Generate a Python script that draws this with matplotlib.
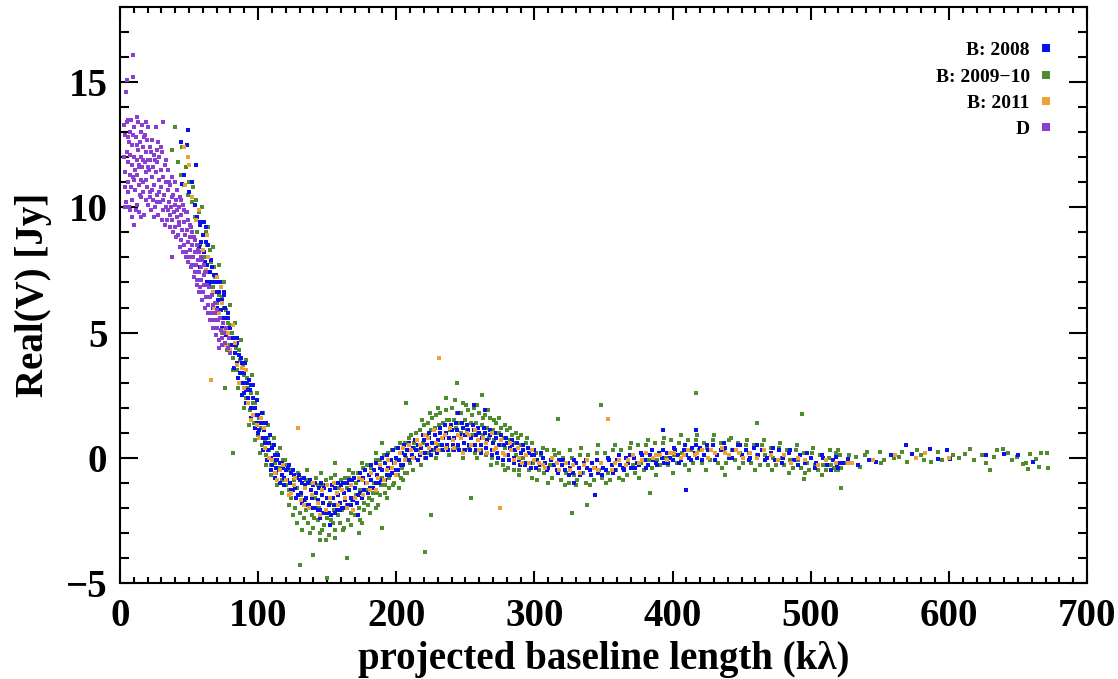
import matplotlib
matplotlib.use("Agg")
import matplotlib.pyplot as plt
from matplotlib.lines import Line2D
from matplotlib.ticker import MultipleLocator

plt.rcParams['font.family'] = ['Liberation Serif', 'DejaVu Serif']
plt.rcParams['font.weight'] = 'bold'

# (baseline kλ, Real(V) Jy)
blue_pts = [
    (44, 12.6), (48.5, 12.5), (49, 13.1), (55, 11.7), (46, 11.3), (45, 10.95), (50, 10.6), (52, 11.0),
    (54, 10.1), (56, 9.6), (58, 9.4), (57, 8.4), (58, 7.6), (63, 7.0),
    (58, 9.3), (59, 8.6), (60, 8.9), (61, 8.2), (62, 8.6), (63, 7.7), (64, 8.0), (65, 7.4), (66, 7.9),
    (67, 7.0), (68, 7.3), (69, 6.6), (70, 7.0), (71, 6.3), (72, 6.6), (73, 5.9), (74, 6.3), (75, 5.6),
    (76, 6.0), (77, 5.2), (78, 5.6), (79, 4.8), (80, 5.2), (81, 4.5), (82, 4.8), (83, 4.2), (84, 4.5),
    (85, 3.8), (86, 4.1), (87, 3.4), (88, 3.8), (89, 3.0), (90, 3.4), (91, 2.7), (92, 3.0), (93, 2.4),
    (94, 2.7), (95, 2.0), (96, 2.4), (97, 1.7), (98, 2.0), (99, 1.4), (100, 1.7), (101, 1.1), (102, 1.4),
    (103, 0.8), (104, 1.1), (105, 0.6), (106, 0.8), (107, 0.3), (108, 0.6), (109, 0.0), (110, 0.4),
    (111, -0.1), (112, 0.1), (113, -0.4), (114, -0.1), (115, -0.5), (116, -0.2), (117, -0.7), (118, -0.4),
    (119, -0.8), (120, -0.5), (62, 9.2), (66, 7.0), (70, 6.0), (75, 6.5), (80, 4.3), (85, 4.6), (90, 2.6),
    (95, 2.9), (100, 1.0), (105, 1.4), (110, -0.3),
    (60.5, 9.4), (61.5, 7.8), (63.5, 8.5), (64.5, 6.9), (66.5, 7.6), (67.5, 6.0), (69.5, 7.3), (70.5, 5.9),
    (72.5, 7.0), (73.5, 5.2), (75.5, 6.6), (76.5, 4.9), (78.5, 5.8), (79.5, 4.2), (81.5, 5.3), (82.5, 3.6),
    (84.5, 4.8), (85.5, 3.2), (87.5, 4.0), (88.5, 2.5), (90.5, 3.8), (91.5, 2.2), (93.5, 3.1), (94.5, 1.6),
    (96.5, 2.9), (97.5, 1.2), (99.5, 2.3), (100.5, 0.8), (102.5, 1.8), (103.5, 0.3), (105.5, 1.4),
    (106.5, -0.1), (108.5, 0.9), (109.5, -0.5), (111.5, 0.5), (112.5, -0.8), (114.5, 0.1), (115.5, -1.0),
    (117.5, -0.2), (118.5, -1.1),
    (121, -0.9), (122, -0.3), (123, -1.0), (124, -0.6), (125, -1.3), (126, -0.7), (127, -1.2), (128, -0.8),
    (129, -1.5), (130, -0.9), (131, -1.4), (132, -1.0), (133, -1.7), (134, -1.1), (135, -1.6), (136, -1.0),
    (137, -1.9), (138, -1.3), (139, -1.6), (140, -1.1), (141, -2.0), (142, -1.4), (143, -1.7), (144, -1.2),
    (145, -2.1), (146, -1.5), (147, -1.8), (148, -1.2), (149, -2.2), (150, -1.6), (151, -1.9), (152, -1.3),
    (153, -2.3), (154, -1.6), (155, -1.9), (156, -1.2), (157, -2.1), (158, -1.5), (159, -1.8), (160, -1.1),
    (161, -2.0), (162, -1.4), (163, -1.7), (164, -1.0), (165, -1.9), (166, -1.3), (167, -1.6), (168, -0.9),
    (169, -1.7), (170, -1.2), (172, -1.5), (173, -0.9), (174, -1.4), (176, -0.8), (177, -1.3), (178, -1.0),
    (180, -0.7), (181, -1.2), (182, -0.9), (184, -0.5), (185, -1.0), (186, -0.7), (188, -0.4), (189, -0.9),
    (190, -0.5), (192, -0.2), (193, -0.7), (194, -0.4), (196, -0.1), (197, -0.6), (198, -0.2), (200, 0.0),
    (201, -0.5), (202, -0.1), (204, 0.2), (205, -0.3), (206, 0.1), (208, 0.3), (209, -0.1), (210, 0.3),
    (152, -2.7), (172, -2.3), (145, -2.4),
    (121.5, -0.4), (123.5, -1.3), (125.5, -0.5), (127.5, -1.6), (129.5, -0.7), (131.5, -1.8), (133.5, -0.8),
    (135.5, -1.9), (137.5, -0.9), (139.5, -2.0), (141.5, -1.0), (143.5, -2.1), (145.5, -1.0), (147.5, -2.2),
    (149.5, -1.1), (151.5, -2.2), (153.5, -1.1), (155.5, -2.2), (157.5, -1.0), (159.5, -2.1), (161.5, -1.0),
    (163.5, -2.0), (165.5, -0.9), (167.5, -1.9), (169.5, -0.8), (171.5, -1.8), (173.5, -0.6), (175.5, -1.6),
    (177.5, -0.5), (179.5, -1.4), (181.5, -0.3), (183.5, -1.2), (185.5, -0.2), (187.5, -1.0), (189.5, 0.0),
    (191.5, -0.9), (193.5, 0.1), (195.5, -0.7), (197.5, 0.3), (199.5, -0.5), (201.5, 0.4), (203.5, -0.3),
    (205.5, 0.5), (207.5, -0.1), (209.5, 0.6), (211.5, 0.1),
    (212, 0.4), (213, 0.0), (214, 0.3), (216, 0.5), (217, 0.1), (218, 0.4), (220, 0.7), (221, 0.2),
    (222, 0.5), (224, 0.8), (225, 0.3), (226, 0.6), (228, 0.9), (229, 0.4), (230, 0.7), (232, 1.0),
    (233, 0.5), (234, 0.8), (236, 1.0), (237, 0.5), (238, 0.8), (240, 1.1), (241, 0.5), (242, 0.8),
    (244, 1.1), (245, 0.5), (246, 0.9), (248, 1.2), (249, 0.6), (250, 0.9), (252, 1.1), (253, 0.5),
    (254, 0.8), (256, 1.1), (257, 0.5), (258, 0.9), (260, 1.0), (261, 0.5), (262, 0.8), (264, 1.0),
    (265, 0.4), (266, 0.7), (268, 0.9), (269, 0.3), (270, 0.6), (272, 0.8), (273, 0.2), (274, 0.5),
    (276, 0.7), (277, 0.2), (278, 0.5), (280, 0.6), (281, 0.1), (282, 0.4), (284, 0.5), (285, 0.0),
    (286, 0.3), (288, 0.4), (289, -0.1), (290, 0.2), (292, 0.3), (293, -0.2), (294, 0.1), (296, 0.2),
    (297, -0.2), (298, 0.1), (300, 0.1), (256, 2.1), (245, 1.8), (264, 1.9),
    (213.5, 0.7), (215.5, -0.1), (219.5, 0.9), (221.5, 0.0), (223.5, 1.0), (225.5, 0.1), (227.5, 1.1),
    (229.5, 0.2), (231.5, 1.2), (233.5, 0.3), (235.5, 1.3), (237.5, 0.3), (239.5, 1.3), (241.5, 0.3),
    (243.5, 1.4), (245.5, 0.3), (247.5, 1.4), (249.5, 0.3), (251.5, 1.3), (253.5, 0.3), (255.5, 1.3),
    (257.5, 0.3), (259.5, 1.2), (261.5, 0.2), (263.5, 1.2), (265.5, 0.2), (267.5, 1.1), (269.5, 0.1),
    (271.5, 1.0), (273.5, 0.0), (275.5, 0.9), (277.5, -0.1), (279.5, 0.8), (281.5, -0.1), (283.5, 0.7),
    (285.5, -0.2), (287.5, 0.6), (289.5, -0.3), (291.5, 0.5), (293.5, -0.3), (295.5, 0.4), (297.5, -0.4),
    (299.5, 0.3),
    (302, -0.1), (304, -0.3), (306, 0.0), (308, -0.2), (310, -0.4), (312, -0.1), (314, -0.3), (316, -0.5),
    (318, -0.1), (320, -0.3), (322, -0.5), (324, -0.2), (326, -0.4), (328, -0.6), (330, -0.2), (332, -0.4),
    (334, -0.6), (336, -0.2), (338, -0.4), (340, -0.5), (342, -0.2), (344, -0.4), (346, -0.6), (348, -0.2),
    (350, -0.4), (352, -0.5), (354, -0.1), (356, -0.3), (358, -0.5), (360, -0.1), (362, -0.3), (364, -0.4),
    (366, 0.0), (368, -0.2), (370, -0.4), (372, 0.0), (374, -0.2), (376, -0.3), (378, 0.1), (380, -0.1),
    (382, -0.3), (384, 0.1), (386, -0.1), (388, -0.2), (390, 0.2), (392, 0.0), (394, -0.2), (396, 0.2),
    (398, 0.0), (400, -0.1), (402, 0.3), (404, 0.1), (406, -0.1), (408, 0.3), (410, 0.1), (412, 0.0),
    (414, 0.4), (416, 0.2), (418, 0.0), (420, 0.4), (423, 0.1), (426, 0.3), (429, 0.5), (432, 0.1),
    (435, 0.3), (438, 0.4), (441, 0.0), (444, 0.3), (447, 0.5), (450, 0.1), (453, 0.3), (456, 0.0),
    (459, 0.4), (462, 0.1), (465, 0.3), (468, 0.0), (471, 0.2), (474, -0.1), (477, 0.3), (480, 0.0),
    (484, 0.2), (488, -0.1), (492, 0.1), (496, -0.2), (500, 0.0), (504, -0.2), (508, 0.1), (512, -0.3),
    (516, -0.1), (519, -0.3), (521, -0.2),
    (301, -0.4), (305, 0.2), (309, -0.5), (313, 0.0), (317, -0.6), (321, -0.1), (325, -0.7), (329, -0.1),
    (333, -0.7), (337, -0.1), (341, -0.7), (345, -0.1), (349, -0.7), (353, 0.0), (357, -0.6), (361, 0.1),
    (365, -0.5), (369, 0.1), (373, -0.4), (377, 0.2), (381, -0.4), (385, 0.3), (389, -0.3), (393, 0.3),
    (397, -0.2), (401, 0.4), (405, -0.2), (409, 0.5), (413, -0.1), (417, 0.5), (421, -0.1), (425, 0.5),
    (431, -0.1), (437, 0.6), (443, 0.0), (449, 0.5), (455, -0.1), (461, 0.5), (467, -0.1), (473, 0.4),
    (479, -0.2), (485, 0.3), (491, -0.3), (497, 0.2), (503, -0.4), (509, 0.0), (515, -0.5), (520, -0.4),
    (393, 1.1), (417, 1.1), (410, -1.3), (344, -1.5), (329, -1.0),
    (518, 0.04), (523, -0.2), (542, -0.1), (547, -0.15), (558, 0.1), (569, 0.5), (573, 0.15), (586, 0.35),
    (592, -0.05), (599, 0.3), (601, -0.05), (627, 0.1), (640, 0.15), (650, 0.1), (661, -0.15), (534, -0.3),
    (527, -0.05),
]

green_pts = [
    (38, 12.3), (40, 13.2), (42, 11.8), (44, 11.3), (45, 12.4), (46, 10.9), (48, 11.6), (49, 10.5),
    (50, 11.0), (52, 10.2), (53, 10.8), (54, 9.6), (55, 10.3), (56, 9.0), (57, 9.8), (58, 8.5), (59, 9.4),
    (60, 8.9), (61, 8.0), (62, 9.0), (63, 8.5), (64, 7.4), (65, 8.3), (66, 7.8), (67, 6.8), (68, 7.6),
    (69, 7.2), (70, 6.2), (71, 7.0), (72, 6.5), (73, 5.6), (74, 6.4), (75, 6.0), (76, 5.0), (77, 5.9),
    (78, 5.4), (79, 4.5), (80, 5.3), (81, 5.0), (82, 4.0), (83, 4.8), (84, 4.4), (85, 3.5), (86, 4.3),
    (87, 3.9), (88, 3.0), (89, 3.7), (90, 3.3), (91, 2.4), (92, 3.2), (93, 2.8), (94, 1.9), (95, 2.6),
    (96, 2.2), (97, 1.4), (98, 2.2), (99, 1.7), (100, 0.9), (101, 1.6), (102, 1.2), (103, 0.5), (104, 1.1),
    (105, 0.7), (106, 0.1), (107, 0.8), (108, 0.3), (109, -0.3), (110, 0.5), (112, -0.2), (113, -0.6),
    (114, 0.2), (116, -0.4), (117, -0.9), (118, -0.1), (120, -1.1), (121, -0.3), (82, 0.2), (76, 2.8),
    (59.5, 10.0), (61.5, 7.4), (63.5, 9.2), (65.5, 6.8), (67.5, 8.4), (69.5, 5.8), (71.5, 7.7), (73.5, 5.0),
    (75.5, 7.0), (77.5, 4.3), (79.5, 6.1), (81.5, 3.5), (83.5, 5.4), (85.5, 2.8), (87.5, 4.7), (89.5, 2.0),
    (91.5, 3.9), (93.5, 1.3), (95.5, 3.3), (97.5, 0.7), (99.5, 2.6), (101.5, 0.2), (103.5, 1.8),
    (105.5, -0.3), (107.5, 1.3), (109.5, -0.7), (111.5, 0.8), (113.5, -1.1), (115.5, 0.4), (117.5, -1.4),
    (119.5, -0.1),
    (122, -1.3), (123, -0.5), (124, -1.6), (126, -0.9), (127, -2.0), (128, -1.2), (129, -0.6), (130, -2.2),
    (131, -1.5), (132, -0.8), (133, -2.4), (134, -1.7), (135, -0.9), (136, -2.6), (137, -1.9), (138, -1.0),
    (139, -2.3), (140, -2.8), (141, -1.6), (142, -0.8), (143, -2.5), (144, -2.0), (145, -3.0), (146, -1.1),
    (147, -2.2), (148, -2.7), (149, -0.9), (150, -2.4), (151, -3.1), (152, -1.8), (153, -0.8), (154, -2.6),
    (155, -2.1), (156, -2.9), (157, -1.0), (158, -2.3), (159, -2.6), (160, -0.9), (161, -2.1), (162, -2.8),
    (163, -0.8), (164, -1.9), (165, -2.5), (166, -0.8), (167, -2.2), (168, -1.7), (169, -0.6), (170, -2.3),
    (171, -1.5), (172, -0.6), (173, -2.0), (174, -1.3), (175, -2.6), (176, -0.4), (177, -1.8), (178, -1.3),
    (179, -0.3), (180, -1.6), (181, -2.2), (182, -0.4), (183, -1.4), (184, -1.0), (185, -0.1), (186, -1.4),
    (187, -1.9), (188, -0.1), (189, -1.1), (190, -0.8), (191, 0.1), (192, -1.1), (193, -1.6), (194, 0.2),
    (195, -0.8), (196, -0.4), (197, 0.3), (198, -1.0), (199, -0.2), (200, 0.4), (201, -0.7), (202, -1.2),
    (203, 0.6), (204, -0.4), (205, -0.9), (206, 0.6), (207, 0.0), (208, -0.6), (209, 0.8), (210, -0.2),
    (211, 0.9), (212, -0.5), (213, 0.4), (214, 1.0),
    (122.5, -1.9), (125.5, -2.3), (128.5, -2.6), (131.5, -2.9), (134.5, -2.1), (137.5, -3.0), (140.5, -2.4),
    (143.5, -1.1), (146.5, -2.9), (149.5, -3.3), (152.5, -2.5), (155.5, -3.2), (158.5, -1.2), (161.5, -2.9),
    (164.5, -1.2), (167.5, -2.7), (170.5, -1.0), (173.5, -2.5), (176.5, -2.1), (179.5, -1.9), (182.5, -1.7),
    (185.5, -2.0), (188.5, -1.5), (191.5, -1.4), (194.5, -1.2), (197.5, -1.1), (200.5, -0.1), (203.5, -0.8),
    (206.5, -0.6), (209.5, 0.3), (212.5, 0.6), (135.5, -0.5), (145.5, -0.6), (155.5, -0.7), (165.5, -0.5),
    (175.5, -0.2), (185.5, 0.2),
    (130, -4.3), (140, -3.9), (164, -4.0), (150, -4.8), (221, -3.75), (225, -2.3), (207, 2.2), (254, -1.6),
    (145, -3.3), (190, -2.8), (156, -0.2), (190, 0.6), (173, -3.0),
    (216, 0.3), (217, 1.1), (218, -0.3), (219, 0.6), (220, 1.3), (221, 0.0), (222, 0.9), (223, 1.4),
    (224, 0.2), (225, 1.1), (226, 1.6), (227, 0.3), (228, 1.2), (229, 1.7), (230, 0.5), (231, 1.3),
    (232, 1.8), (233, 0.3), (234, 1.4), (235, 0.9), (236, 1.9), (237, 0.4), (238, 1.5), (239, 1.1),
    (240, 2.0), (241, 0.3), (242, 1.5), (243, 1.2), (244, 1.8), (245, 0.4), (246, 1.4), (247, 1.0),
    (248, 2.2), (249, 0.3), (250, 1.5), (251, 1.1), (252, 1.9), (253, 0.4), (254, 1.4), (255, 0.9),
    (256, 2.0), (257, 0.2), (258, 1.4), (259, 1.0), (260, 1.8), (261, 0.3), (262, 1.3), (263, 0.9),
    (264, 1.7), (265, 0.1), (266, 1.2), (267, 0.8), (268, 1.6), (269, 0.0), (270, 1.1), (271, 0.7),
    (272, 1.4), (273, -0.2), (274, 1.0), (275, 0.5), (276, 1.2), (277, -0.3), (278, 0.8), (279, 0.4),
    (280, 1.1), (281, -0.4), (282, 0.7), (283, 0.3), (284, 0.9), (285, -0.5), (286, 0.6), (287, 0.1),
    (288, 0.8), (289, -0.5), (290, 0.5), (292, 0.0), (294, 0.6), (296, -0.5), (298, 0.3), (299, -0.2),
    (244, 3.0), (236, 2.4), (262, 2.5),
    (218.5, 1.5), (224.5, 1.8), (230.5, 2.0), (236.5, 1.5), (242.5, 2.3), (246.5, 1.8), (250.5, 2.1),
    (254.5, 1.7), (258.5, 2.1), (262.5, 1.6), (266.5, 1.9), (270.5, 1.5), (274.5, 1.6), (278.5, 1.3),
    (282.5, 1.2), (286.5, 1.0), (290.5, 0.9), (294.5, 0.8), (298.5, 0.6), (228.5, 0.0), (238.5, 0.1),
    (248.5, 0.0), (258.5, 0.0), (268.5, -0.3), (278.5, -0.5), (288.5, -0.7), (298.5, -0.8),
    (301, 0.2), (303, -0.5), (305, 0.1), (307, -0.6), (309, 0.3), (311, -0.3), (313, -0.8), (315, 0.1),
    (317, -0.5), (319, -0.9), (321, 0.0), (323, -0.6), (325, -1.0), (327, 0.0), (329, -0.7), (331, -0.9),
    (333, 0.1), (335, -0.6), (337, -1.0), (339, 0.1), (341, -0.7), (343, -0.9), (345, 0.2), (347, -0.5),
    (349, -0.8), (351, 0.2), (353, -0.6), (355, -0.9), (357, 0.3), (359, -0.5), (361, -0.8), (363, 0.3),
    (365, -0.4), (367, -0.7), (369, 0.4), (371, -0.3), (373, -0.6), (375, 0.5), (377, -0.2), (379, -0.5),
    (381, 0.5), (383, -0.1), (385, -0.4), (387, 0.6), (389, -0.1), (391, -0.3), (393, 0.6), (395, 0.0),
    (397, -0.3), (399, 0.7), (401, 0.1), (403, -0.2), (405, 0.6), (407, 0.2), (409, -0.3), (411, 0.7),
    (413, 0.3), (415, -0.2), (417, 0.7), (419, 0.3), (421, -0.2), (423, 0.6), (425, 0.4), (427, -0.1),
    (429, 0.7), (431, 0.2), (433, -0.2), (435, 0.6), (437, 0.3), (439, -0.2), (441, 0.7), (443, 0.3),
    (445, -0.1), (447, 0.6), (449, 0.2), (451, -0.2), (453, 0.5), (455, 0.2), (457, -0.2), (459, 0.5),
    (461, 0.1), (463, -0.3), (465, 0.5), (467, 0.1), (469, -0.3), (471, 0.4), (473, 0.0), (475, -0.3),
    (477, 0.4), (479, 0.0), (481, -0.3), (483, 0.3), (485, -0.1), (487, -0.4), (489, 0.3), (491, -0.1),
    (493, -0.4), (495, 0.2), (497, -0.2), (499, -0.5), (501, 0.2), (503, -0.3), (505, -0.5), (507, 0.1),
    (509, -0.3), (511, -0.5), (513, 0.0), (515, -0.3), (517, -0.4), (519, -0.2), (520, -0.5),
    (302, -0.9), (306, 0.4), (310, -1.0), (314, 0.3), (318, 0.2), (322, -1.1), (326, 0.3), (330, -1.1),
    (334, 0.4), (340, -1.1), (346, 0.5), (352, -1.0), (358, 0.5), (364, -0.9), (370, 0.6), (376, -0.8),
    (382, 0.7), (388, -0.7), (394, 0.8), (400, -0.6), (406, 0.9), (412, -0.5), (418, 0.9), (424, -0.5),
    (430, 0.9), (436, -0.4), (442, 0.8), (448, -0.4), (454, 0.7), (460, -0.5), (466, 0.7), (472, -0.5),
    (478, 0.6), (484, -0.6), (490, 0.5), (496, -0.6), (502, 0.4), (508, -0.7), (514, 0.3),
    (417, 2.6), (494, 1.75), (348, 2.1), (327, -2.2), (338, -1.9), (461, 1.4), (317, 1.55), (384, -1.4),
    (438, -0.7), (495, -0.85), (522, -1.2),
    (518, 0.2), (519, -0.3), (521, 0.1), (522, -0.4), (520, 0.3), (524, -0.2), (518, -0.5),
    (528, 0.1), (533, 0.05), (536, -0.35), (539, 0.1), (541, 0.25), (545, -0.1), (550, 0.25), (551, -0.2),
    (553, -0.1), (560, 0.0), (564, 0.05), (566, 0.25), (570, -0.15), (577, 0.3), (580, 0.1), (582, -0.1),
    (587, -0.15), (592, 0.25), (595, -0.1), (603, 0.1), (607, 0.0), (612, 0.15), (615, 0.35), (618, -0.1),
    (624, 0.1), (627, -0.2), (630, -0.5), (633, 0.05), (635, 0.3), (639, 0.35), (643, 0.2), (646, -0.1),
    (649, 0.05), (654, -0.25), (656, -0.2), (657, -0.45), (659, 0.15), (663, -0.05), (665, -0.35),
    (667, 0.2), (671, 0.2), (672, -0.4),
]

orange_pts = [
    (46, 12.4), (49, 12.0), (50, 11.7), (47, 10.9), (52, 10.4), (55, 9.5), (57, 9.9), (60, 8.3), (62, 7.5),
    (64, 8.0), (66, 3.1), (67, 6.6), (70, 7.2), (72, 5.8), (74, 6.2), (76, 5.1), (78, 5.0), (80, 4.3),
    (83, 4.6), (85, 3.7), (88, 3.6), (90, 2.8), (93, 2.2), (96, 1.7), (99, 1.3), (102, 1.6), (105, 0.4),
    (108, 0.0), (112, -0.6), (116, -0.5), (129, 1.2),
    (63, 8.9), (68, 6.0), (73, 6.8), (77, 4.5), (82, 5.3), (86, 3.0), (91, 3.5), (95, 1.5), (101, 0.8),
    (104, 1.2), (110, -0.1), (114, -0.9), (118, -0.3),
    (120, -0.9), (124, -1.4), (127, -0.8), (131, -1.7), (134, -1.2), (137, -2.0), (140, -1.0), (143, -1.8),
    (146, -1.3), (149, -2.1), (152, -1.6), (155, -1.0), (158, -1.9), (161, -1.3), (164, -2.0), (167, -1.1),
    (170, -1.6), (173, -0.8), (176, -1.5), (179, -1.0), (182, -0.6), (185, -1.3), (188, -0.3), (191, -0.9),
    (194, -0.1), (197, -0.4), (200, -0.7), (203, 0.2), (206, -0.1), (209, 0.5),
    (122, -1.5), (126, -1.1), (133, -1.9), (139, -1.5), (145, -2.3), (150, -1.1), (157, -1.4), (163, -1.6),
    (169, -2.1), (175, -0.9), (181, -1.3), (187, -0.8), (193, -0.5), (199, -0.2), (205, 0.4),
    (212, 0.0), (215, 0.7), (218, 0.2), (221, 0.9), (224, 0.4), (227, 1.1), (230, 0.3), (231, 4.0),
    (233, 0.8), (236, 0.4), (239, 1.2), (242, 0.4), (245, 0.9), (248, 0.2), (251, 1.0), (254, 0.5),
    (257, 1.1), (260, 0.3), (263, 0.8), (266, 0.2), (269, 1.0), (272, 0.4), (275, -2.0), (276, 0.7),
    (279, 0.1), (282, 0.6), (285, -0.1), (288, 0.4), (291, -0.2), (294, 0.1),
    (211, 0.3), (217, 0.5), (223, 0.8), (229, 0.6), (235, 0.9), (241, 0.7), (247, 0.8), (253, 0.9),
    (259, 0.7), (265, 0.6), (271, 0.3), (277, 0.2), (283, 0.3), (289, 0.0), (296, -0.2),
    (298, 0.3), (303, -0.2), (308, -0.4), (313, 0.0), (318, -0.5), (323, -0.2), (328, -0.3), (333, -0.6),
    (338, -0.1), (343, -0.4), (348, -0.2), (353, 1.55), (356, -0.5), (361, -0.1), (366, -0.3), (371, 0.1),
    (376, -0.2), (381, 0.2), (386, 0.0), (391, 0.1), (396, -0.1), (401, 0.2), (406, 0.0), (411, 0.3),
    (416, 0.1), (421, 0.3), (426, 0.0), (431, 0.2), (436, 0.4), (441, 0.1), (446, 0.3), (451, 0.0),
    (456, 0.2), (461, 0.0), (466, 0.3), (471, 0.1), (476, -0.1), (481, 0.1), (486, -0.2), (491, 0.0),
    (496, -0.1), (505, -0.3), (511, -0.1), (518, -0.2), (527, -0.2), (530, -0.2), (545, -0.1), (561, 0.1),
    (576, 0.0), (583, 0.2), (600, 0.0),
    (300, -0.1), (306, -0.3), (316, -0.2), (326, -0.5), (336, -0.3), (346, -0.5), (358, -0.2), (368, -0.1),
    (378, -0.1), (388, 0.1), (398, 0.2), (408, 0.1), (418, 0.2), (428, 0.3), (438, 0.2), (448, 0.2),
]

purple_pts = [
    (3, 12.0), (3.5, 10.8), (4, 12.9), (4, 11.4), (4.5, 10.2), (5, 13.4), (5, 12.2), (5.5, 11.0), (6, 11.8),
    (6, 10.6), (6.5, 12.6), (7, 11.3), (7, 9.9), (7.5, 12.1), (8, 13.5), (8, 10.8), (8.5, 11.7), (9, 12.5),
    (9, 10.3), (9.5, 11.2), (10, 13.2), (10, 12.0), (10.5, 9.3), (11, 11.5), (11, 10.7), (11.5, 12.8),
    (12, 11.9), (12, 10.1), (12.5, 11.3), (13, 13.4), (13, 12.3), (13.5, 10.9), (14, 11.7), (14, 9.8),
    (14.5, 12.6), (15, 11.1), (15, 10.4), (15.5, 12.0), (16, 13.3), (16, 11.6), (16.5, 10.6), (17, 12.4),
    (17, 11.0), (17.5, 9.7), (18, 11.8), (18, 12.9), (18.5, 10.3), (19, 11.4), (19, 12.2), (19.5, 10.8),
    (20, 11.9), (20, 13.2), (20.5, 10.1),
    (21, 11.5), (21.5, 12.4), (22, 10.6), (22, 11.9), (22.5, 9.9), (23, 11.2), (23.5, 12.7), (24, 10.3),
    (24, 11.6), (24.5, 12.1), (25, 10.9), (25.5, 10.0), (26, 11.4), (26.5, 12.3), (27, 10.5), (27, 11.8),
    (27.5, 9.7), (28, 11.1), (28.5, 12.0), (29, 10.2), (29.5, 11.5), (30, 10.8), (30.5, 12.2), (31, 13.4),
    (31, 9.9), (31.5, 11.2), (32, 10.5), (32.5, 11.7), (33, 10.0), (33.5, 11.0), (34, 9.5), (34.5, 10.7),
    (35, 11.5), (35.5, 10.2), (36, 9.2), (36.5, 10.9), (37, 10.0), (37.5, 11.2), (38, 9.5), (38, 8.0),
    (38.5, 10.5), (39, 9.8), (39.5, 11.0), (40, 9.2), (40.5, 10.3),
    (41, 9.6), (41.5, 10.7), (42, 8.9), (42.5, 10.0), (43, 9.4), (43.5, 10.4), (44, 8.7), (44.5, 9.7),
    (45, 9.1), (45.5, 10.1), (46, 8.5), (46.5, 9.4), (47, 8.9), (47.5, 9.8), (48, 8.2), (48.5, 9.1),
    (49, 8.6), (49.5, 9.5), (50, 8.0), (50.5, 8.8), (51, 8.3), (51.5, 9.2), (52, 7.7), (52.5, 8.5),
    (53, 8.0), (53.5, 8.8), (54, 7.4), (54.5, 8.2), (55, 7.7), (55.5, 8.5), (56, 7.1), (56.5, 7.9),
    (57, 7.4), (57.5, 8.2), (58, 6.8), (58.5, 7.6), (59, 7.1), (59.5, 7.9), (60, 6.6), (60.5, 7.3),
    (61, 6.9), (62, 7.4), (62.5, 6.4), (63, 6.9), (64, 6.1), (64.5, 6.8), (65, 6.4), (66, 5.8), (66.5, 6.5),
    (67, 6.1), (68, 5.5), (68.5, 6.2), (69, 5.8), (70, 5.2), (70.5, 5.9), (71, 5.5), (72, 4.4), (72.5, 5.6),
    (73, 5.1), (74, 4.8), (74.5, 5.4), (75, 5.0), (76, 4.6), (77, 5.2), (78, 4.4), (79, 4.8), (80, 4.2),
    (5.5, 12.8), (6.5, 10.0), (7.5, 13.0), (8.5, 9.6), (9.5, 12.9), (10.5, 11.1), (11.5, 9.9), (12.5, 12.5),
    (13.5, 11.6), (14.5, 10.5), (15.5, 13.0), (16.5, 11.9), (17.5, 12.8), (18.5, 11.1), (19.5, 12.7),
    (20.5, 11.6), (21.5, 10.4), (22.5, 12.2), (23.5, 10.7), (24.5, 9.6), (25.5, 11.9), (26.5, 10.2),
    (27.5, 12.6), (28.5, 10.6), (29.5, 12.4), (30.5, 9.5), (31.5, 10.3), (32.5, 9.3), (33.5, 11.9),
    (34.5, 9.9), (35.5, 11.0), (36.5, 9.7), (37.5, 10.4), (38.5, 9.0), (39.5, 10.1), (40.5, 8.8),
    (41.5, 9.9), (42.5, 9.3), (43.5, 8.4), (44.5, 10.3), (45.5, 8.2), (46.5, 9.9), (47.5, 8.0), (48.5, 9.8),
    (49.5, 7.8), (50.5, 9.3), (51.5, 7.6), (52.5, 9.0), (53.5, 7.2), (54.5, 8.7), (55.5, 6.9), (56.5, 8.3),
    (57.5, 6.6), (58.5, 8.0), (59.5, 6.3), (60.5, 7.7), (61.5, 6.0), (62.5, 7.4), (63.5, 5.8), (65.5, 5.5),
    (67.5, 5.2), (69.5, 4.9), (71.5, 4.7), (73.5, 4.5), (3, 13.3), (4, 10.0), (6, 13.5), (12, 13.6),
    (15, 9.6), (19, 13.4), (26, 13.2),
    (4.3, 14.6), (5, 15.1), (9.4, 15.2), (9.4, 16.1),
]

labels = ["B: 2008", "B: 2009\u221210", "B: 2011", "D"]
colors = ["#0a10ee", "#4e8c2e", "#eea234", "#8a3fd0"]

fig = plt.figure(figsize=(11.18, 6.79), dpi=100)
ax = fig.add_axes([0.1073, 0.1414, 0.8650, 0.8483])

series = [blue_pts, green_pts, orange_pts, purple_pts]
order = [1, 0, 2, 3]  # green underneath, purple on top
for i in order:
    xs, ys = zip(*series[i])
    ax.plot(xs, ys, 's', color=colors[i], markersize=2.9, markeredgewidth=0, linestyle='none')

ax.set_xlim(0, 700)
ax.set_ylim(-5, 18)
ax.xaxis.set_major_locator(MultipleLocator(100))
ax.xaxis.set_minor_locator(MultipleLocator(10))
ax.yaxis.set_major_locator(MultipleLocator(5))
ax.yaxis.set_minor_locator(MultipleLocator(1))
ax.set_yticks([-5, 0, 5, 10, 15])

ax.tick_params(axis='both', which='both', direction='in', top=True, right=True, width=1.5, labelsize=28)
ax.tick_params(axis='x', which='major', length=9, pad=11)
ax.tick_params(axis='x', which='minor', length=4.5)
ax.tick_params(axis='y', which='major', length=13, pad=9)
ax.tick_params(axis='y', which='minor', length=6.5)
for sp in ax.spines.values():
    sp.set_linewidth(1.5)

ax.set_xlabel("projected baseline length (k\u03bb)", fontsize=28, fontweight='bold', labelpad=4)
ax.set_ylabel("Real(V) [Jy]", fontsize=28, fontweight='bold', labelpad=10)

handles = [Line2D([], [], marker='s', linestyle='none', color=c, markersize=6, markeredgewidth=0)
           for c in colors]
ax.legend(handles, labels, loc='upper right', bbox_to_anchor=(0.963, 0.94), frameon=False,
          markerfirst=False, handlelength=0.5, handletextpad=0.6, labelspacing=0.45,
          borderpad=0, borderaxespad=0, prop={'size': 14, 'weight': 'bold'})

fig.savefig("out.png", dpi=100)
